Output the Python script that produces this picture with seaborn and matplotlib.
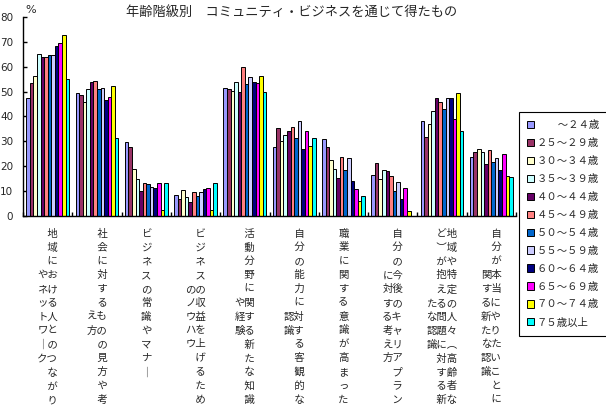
import matplotlib
matplotlib.use("Agg")
import matplotlib.pyplot as plt
import seaborn as sns
import pandas as pd
import numpy as np

# ---------------- data ----------------
categories = [
    "地域における人とのつながりやネットワーク",
    "社会に対するものの見方や考え方",
    "ビジネスの常識やマナー",
    "ビジネスの収益を上げるためのノウハウ",
    "活動分野に関する新たな知識や経験",
    "自分の能力に対する客観的な認識",
    "職業に関する意識が高まった",
    "自分の今後のキャリアプランに対する考え方",
    "地域や特定の人々（高齢者など）が抱える問題に対する新たな認識",
    "自分が本当にやりたいことに関する新たな認識",
]

age_groups = ["　　～２４歳", "２５～２９歳", "３０～３４歳", "３５～３９歳",
              "４０～４４歳", "４５～４９歳", "５０～５４歳", "５５～５９歳",
              "６０～６４歳", "６５～６９歳", "７０～７４歳", "７５歳以上"]

age_under24 = [47.3, 49.3, 29.7, 8.3, 51.3, 27.9, 30.9, 16.5, 38.1, 23.7]
age_25_29 = [53.3, 48.5, 27.9, 6.9, 50.9, 35.3, 27.9, 21.3, 31.7, 25.7]
age_30_34 = [56.3, 45.9, 18.9, 10.5, 50.1, 30.1, 22.5, 14.9, 36.9, 26.9]
age_35_39 = [65.1, 51.1, 14.9, 7.5, 53.9, 32.5, 18.9, 18.5, 42.1, 25.7]
age_40_44 = [63.9, 53.9, 9.9, 5.5, 49.7, 34.1, 15.3, 18.1, 47.3, 20.9]
age_45_49 = [64.1, 54.3, 13.1, 9.5, 60.1, 35.7, 23.9, 16.1, 45.7, 26.5]
age_50_54 = [64.7, 51.1, 12.7, 8.1, 52.9, 31.3, 18.5, 10.1, 42.9, 21.7]
age_55_59 = [64.7, 51.3, 11.7, 9.5, 55.7, 38.1, 23.3, 13.7, 47.3, 23.3]
age_60_64 = [68.3, 46.7, 11.1, 10.9, 53.9, 26.9, 14.1, 6.9, 47.3, 18.5]
age_65_69 = [69.5, 47.7, 13.1, 11.3, 53.3, 34.1, 10.9, 11.3, 38.9, 24.9]
age_70_74 = [72.7, 52.1, 2.3, 2.3, 56.1, 28.1, 6.1, 2.1, 49.3, 16.1]
age_75_over = [55.1, 31.5, 13.3, 13.3, 49.7, 31.3, 8.1, 0.0, 34.1, 15.7]

series = [age_under24, age_25_29, age_30_34, age_35_39, age_40_44, age_45_49,
          age_50_54, age_55_59, age_60_64, age_65_69, age_70_74, age_75_over]

colors = ["#9999FF", "#993366", "#FFFFCC", "#CCFFFF", "#660066", "#FF8080",
          "#0066CC", "#CCCCFF", "#000080", "#FF00FF", "#FFFF00", "#00FFFF"]

yticks = [0, 10, 20, 30, 40, 50, 60, 70, 80]
title = "年齢階級別　コミュニティ・ビジネスを通じて得たもの"

# ---------------- build table ----------------
rows = []
for g, vals in zip(age_groups, series):
    for c, v in zip(categories, vals):
        rows.append({"category": c, "age": g, "value": v})
df = pd.DataFrame(rows)

sns.set_style("white")
plt.rcParams["font.family"] = ["Noto Sans CJK JP", "DejaVu Sans"]

fig = plt.figure(figsize=(6.06, 4.18), dpi=100)
ax = fig.add_axes([23 / 606, 1 - 216 / 418, (516 - 23) / 606, (216 - 17) / 418])

sns.barplot(data=df, x="category", y="value", hue="age", order=categories,
            hue_order=age_groups, palette=colors, width=0.87,
            edgecolor="black", linewidth=0.7, saturation=1, ax=ax,
            errorbar=None)

ax.set_ylim(0, 80)
ax.set_xlim(-0.5, len(categories) - 0.5)
ax.set_yticks(yticks)
ax.set_yticklabels([str(t) for t in yticks], fontsize=7.5,
                   family=["DejaVu Sans"])
ax.set_xlabel("")
ax.set_ylabel("")
for s in ["top", "right"]:
    ax.spines[s].set_visible(False)
for s in ["left", "bottom"]:
    ax.spines[s].set_color("black")
    ax.spines[s].set_linewidth(1.0)
ax.tick_params(axis="y", direction="in", length=3, width=1, color="black",
               pad=7, left=True)


def vertical_label(text, nrows=13):
    text = text.replace("ー", "｜").replace("（", "︵").replace("）", "︶")
    cols = [text[i:i + nrows] for i in range(0, len(text), nrows)]
    padded = []
    for j, c in enumerate(cols):
        if j == 0:
            top = 0
        else:
            top = (nrows - len(c) + 1) // 2
        col = ["　"] * nrows
        for k, ch in enumerate(c):
            col[top + k] = ch
        padded.append(col)
    lines = []
    for r in range(nrows):
        lines.append("".join(padded[j][r] for j in reversed(range(len(padded)))))
    while lines and lines[-1].strip("　") == "":
        lines.pop()
    return "\n".join(lines)


ax.set_xticks(range(len(categories)))
ax.set_xticklabels([vertical_label(c) for c in categories], fontsize=7.5,
                   linespacing=1.48, va="top")
ax.tick_params(axis="x", which="major", length=0, pad=9)
ax.set_xticks(np.arange(-0.5, len(categories), 1.0), minor=True)
ax.tick_params(axis="x", which="minor", direction="in", length=3, width=1,
               color="black", bottom=True)

fig.text(25 / 606, 1 - 10 / 418, "%", fontsize=8, ha="left", va="center",
         family=["DejaVu Sans"])
fig.text(292 / 606, 1 - 12 / 418, title, fontsize=9.5, ha="center",
         va="center")

h, l = ax.get_legend_handles_labels()
leg = ax.legend(h, l, loc="upper left",
                bbox_to_anchor=(519 / 606, 1 - 112 / 418),
                bbox_transform=fig.transFigure, fontsize=7.5, frameon=True,
                fancybox=False, edgecolor="black", framealpha=1,
                handlelength=0.6, handleheight=0.7, handletextpad=0.3,
                labelspacing=0.76, borderpad=0.8, borderaxespad=0)
leg.get_frame().set_linewidth(0.8)

fig.savefig("out.png", dpi=100)
